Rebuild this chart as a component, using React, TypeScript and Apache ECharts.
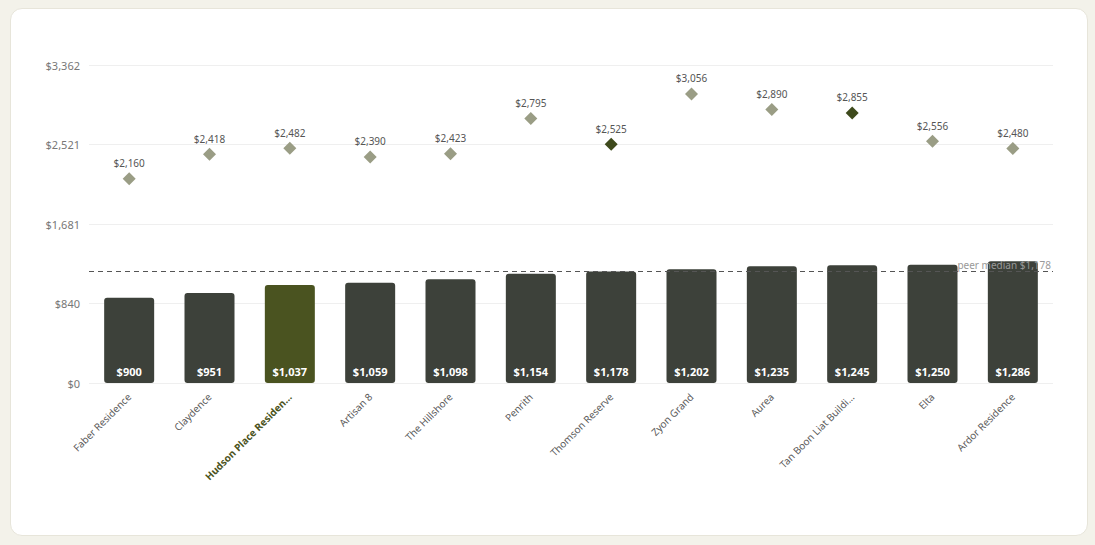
import React, { useEffect, useRef } from "react";
import * as echarts from "echarts";

// projects, ordered by bar value
const projects = [
  "Faber Residence",
  "Claydence",
  "Hudson Place Residences",
  "Artisan 8",
  "The Hillshore",
  "Penrith",
  "Thomson Reserve",
  "Zyon Grand",
  "Aurea",
  "Tan Boon Liat Building",
  "Elta",
  "Ardor Residence",
];
const barValues = [900, 951, 1037, 1059, 1098, 1154, 1178, 1202, 1235, 1245, 1250, 1286];
const diamondValues = [2160, 2418, 2482, 2390, 2423, 2795, 2525, 3056, 2890, 2855, 2556, 2480];
const highlightBar = "Hudson Place Residences";
const highlightDiamonds = ["Thomson Reserve", "Tan Boon Liat Building"];
const peerMedian = 1178;

const FONT = "'Noto Sans', sans-serif";
const fmt = (v: number) => "$" + Math.round(v).toLocaleString("en-US");

const App = () => {
  const chartRef = useRef<HTMLDivElement | null>(null);

  useEffect(() => {
    if (!chartRef.current) return;
    const chart = echarts.init(chartRef.current, null, { renderer: "svg" });
    const yMax = Math.max(...diamondValues) * 1.1;

    chart.setOption({
      animation: false,
      textStyle: { fontFamily: FONT },
      grid: { left: 89, right: 42, top: 65, bottom: 162 },
      xAxis: {
        type: "category",
        data: projects,
        axisLine: { show: false },
        axisTick: { show: false },
        axisLabel: {
          rotate: 45,
          interval: 0,
          margin: 12,
          color: "#5a5a5a",
          fontSize: 10,
          fontFamily: FONT,
          formatter: (name: string) => {
            const s = name.length > 20 ? name.slice(0, 20) + "…" : name;
            return name === highlightBar ? "{hl|" + s + "}" : s;
          },
          rich: {
            hl: { color: "#4a5320", fontWeight: "bold", fontSize: 10, fontFamily: FONT },
          },
        },
      },
      yAxis: {
        type: "value",
        min: 0,
        max: yMax,
        interval: yMax / 4,
        axisLine: { show: false },
        axisTick: { show: false },
        axisLabel: { color: "#777", fontSize: 11, margin: 9, formatter: (v: number) => fmt(v) },
        splitLine: { lineStyle: { color: "#efefef" } },
      },
      series: [
        {
          type: "bar",
          data: barValues.map((v, i) => ({
            value: v,
            itemStyle: { color: projects[i] === highlightBar ? "#4a5320" : "#3d413a" },
          })),
          barWidth: 50,
          itemStyle: { borderRadius: 3 },
          label: {
            show: true,
            position: "insideBottom",
            distance: 6,
            color: "#fff",
            fontWeight: "bold",
            fontSize: 11,
            formatter: (p: any) => fmt(p.value),
          },
          markLine: {
            symbol: "none",
            silent: true,
            data: [{ yAxis: peerMedian }],
            lineStyle: { color: "#555", type: [5, 4], width: 1 },
            label: {
              position: "insideEndTop",
              color: "#999",
              fontSize: 10,
              distance: 2,
              formatter: "peer median " + fmt(peerMedian),
            },
          },
        },
        {
          type: "scatter",
          symbol: "diamond",
          symbolSize: 13,
          itemStyle: { opacity: 1 },
          data: diamondValues.map((v, i) => ({
            value: v,
            itemStyle: {
              opacity: 1,
              color: highlightDiamonds.includes(projects[i]) ? "#3e4a1c" : "#9a9d85",
            },
          })),
          label: {
            show: true,
            position: "top",
            distance: 4,
            color: "#555",
            fontSize: 10,
            formatter: (p: any) => fmt(p.value),
          },
        },
      ],
    });

    return () => {
      chart.dispose();
    };
  }, []);

  return (
    <div style={{ position: "fixed", left: 0, top: 0, width: 1095, height: 545, background: "#f3f2ea" }}>
      <div
        style={{
          position: "absolute",
          left: 10,
          top: 8,
          width: 1076,
          height: 526,
          background: "#fff",
          borderRadius: 12,
          border: "1px solid #e7e5da",
        }}
      />
      <div ref={chartRef} style={{ position: "absolute", left: 0, top: 0, width: 1095, height: 545 }} />
    </div>
  );
};

export default App;
